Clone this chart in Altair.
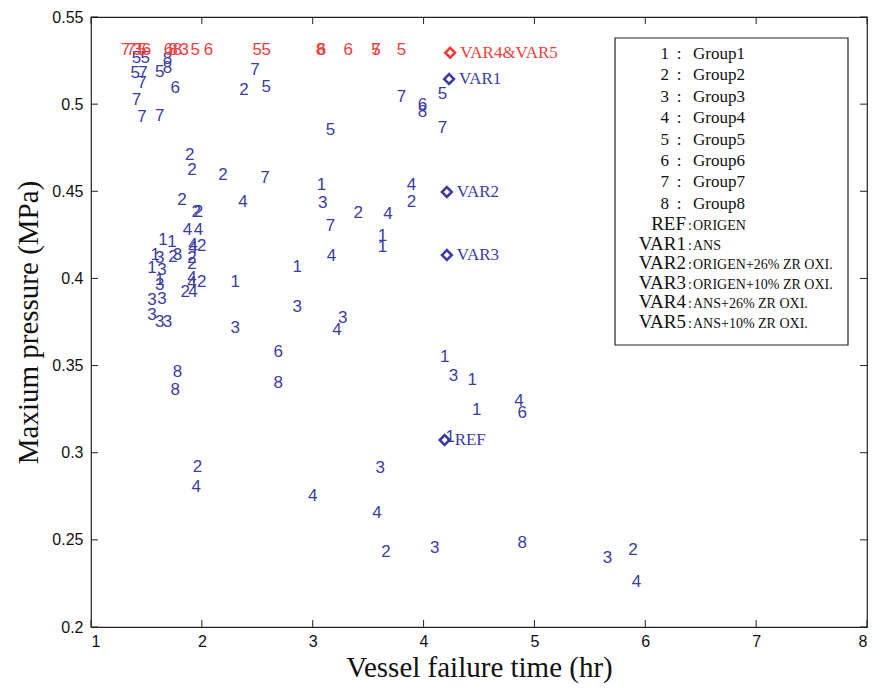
import altair as alt
import pandas as pd

# ---- blue case labels (group number, vessel failure time, max pressure)
blue_labels = ["5", "5", "5", "7", "7", "5", "8", "8", "6", "7", "7", "7", "7", "2", "5", "7", "6", "8", "5", "5", "7",
               "2", "2", "2", "7", "2", "4", "2", "2", "4", "4", "1", "1", "4", "2", "4", "1", "3", "2", "3", "2",
               "1", "3", "2", "1", "3", "4", "4", "2", "1", "2", "4", "3", "3", "3", "3", "3", "3", "1", "3",
               "1", "3", "7", "2", "4", "4", "2", "1", "1", "4", "3", "4", "6", "8", "8", "8",
               "1", "3", "1", "4", "6", "1", "1", "2", "4", "3", "4", "4", "2", "3", "8", "3", "2", "4"]
blue_x = [1.41, 1.49, 1.40, 1.47, 1.46, 1.62, 1.69, 1.69, 1.76, 1.41, 1.46, 1.62, 2.48, 2.38, 2.58, 3.80, 3.99, 3.99, 4.17, 3.16, 4.17,
          1.89, 1.91, 2.19, 2.57, 1.82, 2.37, 1.95, 1.97, 1.87, 1.97, 1.65, 1.73, 1.92, 2.00, 1.92, 1.58, 1.62, 1.74, 1.78, 1.91,
          1.55, 1.64, 1.91, 1.62, 1.62, 1.91, 1.91, 2.00, 2.30, 1.85, 1.92, 1.55, 1.64, 1.55, 1.62, 1.69, 2.30, 2.86, 2.86,
          3.08, 3.09, 3.16, 3.41, 3.68, 3.89, 3.89, 3.63, 3.63, 3.17, 3.27, 3.22, 2.69, 1.78, 1.76, 2.69,
          4.19, 4.27, 4.44, 4.86, 4.89, 4.48, 4.24, 1.96, 1.95, 3.61, 3.00, 3.58, 3.66, 4.10, 4.89, 5.66, 5.89, 5.92]
blue_y = [0.5265, 0.5265, 0.518, 0.518, 0.512, 0.5184, 0.526, 0.521, 0.509, 0.5024, 0.4926, 0.4932, 0.5196, 0.508, 0.5098, 0.504, 0.4995, 0.4955, 0.506, 0.4852, 0.4863,
          0.4708, 0.4622, 0.4593, 0.4576, 0.445, 0.4438, 0.438, 0.438, 0.4278, 0.4278, 0.422, 0.4209, 0.4192, 0.4186, 0.4175, 0.4134, 0.4117, 0.4123, 0.4134, 0.4117,
          0.406, 0.4048, 0.408, 0.3991, 0.3962, 0.4003, 0.3974, 0.3979, 0.3979, 0.3922, 0.3922, 0.3876, 0.3882, 0.379, 0.375, 0.375, 0.3715, 0.4065, 0.3836,
          0.4536, 0.4433, 0.4301, 0.4375, 0.437, 0.4536, 0.4438, 0.4243, 0.418, 0.4129, 0.3773, 0.3704, 0.3578, 0.3463, 0.336, 0.34,
          0.3549, 0.344, 0.3417, 0.3297, 0.3228, 0.3245, 0.309, 0.2918, 0.2803, 0.2912, 0.2752, 0.2654, 0.243, 0.2453, 0.2482, 0.2396, 0.2442, 0.2258]

# ---- red case labels along the top
red_labels = ["7", "7", "3", "5", "6", "6", "8", "8", "3", "5", "6", "5", "5", "8", "6", "6", "7", "5", "5"]
red_x = [1.31, 1.36, 1.42, 1.46, 1.50, 1.70, 1.74, 1.78, 1.84, 1.94, 2.06, 2.50, 2.58, 3.07, 3.08, 3.32, 3.57, 3.57, 3.80]
red_y = [0.531] * len(red_labels)

# ---- reference / variant markers
mark_names = ["REF", "VAR1", "VAR2", "VAR3", "VAR4&VAR5"]
mark_x = [4.19, 4.23, 4.21, 4.21, 4.24]
mark_y = [0.3073, 0.5144, 0.4496, 0.4134, 0.5295]
mark_kind = ["blue", "blue", "blue", "blue", "red"]

# ---- legend entries
legend_group_keys = ["1", "2", "3", "4", "5", "6", "7", "8"]
legend_group_desc = ["Group1", "Group2", "Group3", "Group4", "Group5", "Group6", "Group7", "Group8"]
legend_var_keys = ["REF", "VAR1", "VAR2", "VAR3", "VAR4", "VAR5"]
legend_var_desc = ["ORIGEN", "ANS", "ORIGEN+26% ZR OXI.", "ORIGEN+10% ZR OXI.", "ANS+26% ZR OXI.", "ANS+10% ZR OXI."]

x_ticks = [1, 2, 3, 4, 5, 6, 7, 8]
y_ticks = [0.2, 0.25, 0.3, 0.35, 0.4, 0.45, 0.5, 0.55]

BLUE = "#3c3ca0"
RED = "#f03c3c"
W, H = 776, 610

blue_df = pd.DataFrame({"g": blue_labels, "t": blue_x, "p": blue_y})
red_df = pd.DataFrame({"g": red_labels, "t": red_x, "p": red_y})
mk_df = pd.DataFrame({"name": mark_names, "t": mark_x, "p": mark_y, "kind": mark_kind})

xs = alt.Scale(domain=[1, 8], nice=False, zero=False)
ys = alt.Scale(domain=[0.2, 0.55], nice=False, zero=False)

X = alt.X("t:Q", scale=xs, axis=alt.Axis(values=x_ticks, format="d", title="Vessel failure time (hr)",
                                         grid=False, ticks=False, domain=False, labelFont="Liberation Sans",
                                         labelFontSize=16, labelColor="#111", labelPadding=6,
                                         titleFont="Liberation Serif", titleFontSize=29, titleFontWeight="normal",
                                         titleColor="#111", titlePadding=4))
Y = alt.Y("p:Q", scale=ys, axis=alt.Axis(values=y_ticks, format=".2~f", title="Maxium pressure (MPa)",
                                         grid=False, ticks=False, domain=False, labelFont="Liberation Sans",
                                         labelFontSize=16, labelColor="#111", labelPadding=8,
                                         titleFont="Liberation Serif", titleFontSize=29, titleFontWeight="normal",
                                         titleColor="#111", titlePadding=8))

blue_txt = alt.Chart(blue_df).mark_text(font="Liberation Sans", fontSize=17, color=BLUE,
                                        align="center", baseline="middle").encode(x=X, y=Y, text="g:N")
red_txt = alt.Chart(red_df).mark_text(font="Liberation Sans", fontSize=17, color=RED,
                                      align="center", baseline="middle").encode(x="t:Q", y="p:Q", text="g:N")
color_scale = alt.Scale(domain=["blue", "red"], range=[BLUE, RED])
diamonds = alt.Chart(mk_df).mark_point(shape="diamond", filled=False, strokeWidth=2.6, size=95, opacity=1).encode(
    x="t:Q", y="p:Q", color=alt.Color("kind:N", scale=color_scale, legend=None))
mk_lbl = alt.Chart(mk_df).mark_text(font="Liberation Serif", fontSize=17, align="left", baseline="middle", dx=10).encode(
    x="t:Q", y="p:Q", text="name:N", color=alt.Color("kind:N", scale=color_scale, legend=None))

xt_df = pd.DataFrame({"t": x_ticks})
yt_df = pd.DataFrame({"p": y_ticks})
tick_style = dict(color="#222", strokeWidth=1)
xt_bot = alt.Chart(xt_df).mark_rule(**tick_style).encode(x="t:Q", y=alt.value(H), y2=alt.value(H - 7))
xt_top = alt.Chart(xt_df).mark_rule(**tick_style).encode(x="t:Q", y=alt.value(0), y2=alt.value(7))
yt_left = alt.Chart(yt_df).mark_rule(**tick_style).encode(y="p:Q", x=alt.value(0), x2=alt.value(7))
yt_right = alt.Chart(yt_df).mark_rule(**tick_style).encode(y="p:Q", x=alt.value(W), x2=alt.value(W - 7))

one = pd.DataFrame({"a": [0]})
leg_box = alt.Chart(one).mark_rect(fill="white", stroke="#222", strokeWidth=1.2).encode(
    x=alt.value(524), x2=alt.value(757), y=alt.value(21), y2=alt.value(328))
serif = "Liberation Serif"
leg_gk = alt.Chart(one).mark_text(text=legend_group_keys, font=serif, fontSize=17, lineHeight=21.4,
                                  align="right", baseline="top", color="#111").encode(x=alt.value(578), y=alt.value(29))
leg_gc = alt.Chart(one).mark_text(text=[":"] * 8, font=serif, fontSize=17, lineHeight=21.4,
                                  align="center", baseline="top", color="#111").encode(x=alt.value(588), y=alt.value(29))
leg_gd = alt.Chart(one).mark_text(text=legend_group_desc, font=serif, fontSize=17, lineHeight=21.4,
                                  align="left", baseline="top", color="#111").encode(x=alt.value(602), y=alt.value(29))
leg_vk = alt.Chart(one).mark_text(text=legend_var_keys, font=serif, fontSize=19, lineHeight=19.6,
                                  align="right", baseline="top", color="#111").encode(x=alt.value(595), y=alt.value(198))
leg_vc = alt.Chart(one).mark_text(text=[":"] * 6, font=serif, fontSize=14, lineHeight=19.6,
                                  align="center", baseline="top", color="#111").encode(x=alt.value(599), y=alt.value(202))
leg_vd = alt.Chart(one).mark_text(text=legend_var_desc, font=serif, fontSize=14, lineHeight=19.6,
                                  align="left", baseline="top", color="#111").encode(x=alt.value(602), y=alt.value(202))

chart = alt.layer(
    blue_txt, red_txt, diamonds, mk_lbl, xt_bot, xt_top, yt_left, yt_right,
    leg_box, leg_gk, leg_gc, leg_gd, leg_vk, leg_vc, leg_vd
).properties(
    width=W, height=H,
    autosize=alt.AutoSizeParams(type="none"),
    padding={"left": 91, "top": 17, "right": 5, "bottom": 61},
    background="white"
).configure_view(stroke="#222", strokeWidth=1.2)

chart.save("out.html", embed_options={"renderer": "svg", "actions": False})
